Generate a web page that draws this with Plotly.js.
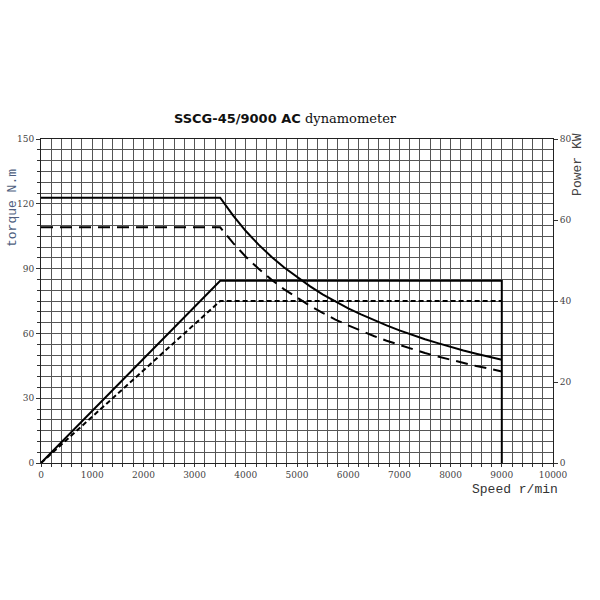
<!DOCTYPE html>
<html><head><meta charset="utf-8">
<script src="https://cdn.plot.ly/plotly-3.0.1.min.js"></script>
<style>body{margin:0;background:#fff}#c{width:600px;height:600px}</style>
</head><body><div id="c"></div>
<script>
// Speed values (r/min)
const speed = [0, 3500, 3750, 4000, 4250, 4500, 4750, 5000, 5250, 5500, 5750, 6000, 6250, 6500, 6750, 7000, 7250, 7500, 7750, 8000, 8250, 8500, 8750, 9000];
// Torque curves (N.m)
const torqueSolid = [122.8, 122.8, 114.6, 107.4, 101.1, 95.5, 90.5, 86.0, 81.9, 78.1, 74.7, 71.6, 68.8, 66.1, 63.7, 61.4, 59.3, 57.3, 55.5, 53.7, 52.1, 50.6, 49.1, 47.8];
const torqueDashed = [109.1, 109.1, 101.9, 95.5, 89.9, 84.9, 80.4, 76.4, 72.8, 69.5, 66.4, 63.7, 61.1, 58.8, 56.6, 54.6, 52.7, 50.9, 49.3, 47.8, 46.3, 44.9, 43.7, 42.4];
// Power curves (kW)
const powerSpeed = [0, 3500, 9000, 9000];
const powerSolid = [0, 45, 45, 0];
const powerSpeedDashed = [0, 3500, 9000];
const powerDashed = [0, 40, 40];
const xTicks = [0,1000,2000,3000,4000,5000,6000,7000,8000,9000,10000];
const xTickText = ['0','1000','2000','3000','4000','5000','6000','7000','8000','9000','10000'];
const yTicks = [0,30,60,90,120,150];
const y2Ticks = [0,20,40,60,80];

const traces = [
 {x: speed, y: torqueSolid, mode:'lines', line:{color:'#000', width:2}, yaxis:'y'},
 {x: speed, y: torqueDashed, mode:'lines', line:{color:'#000', width:2, dash:'12px,7px'}, yaxis:'y'},
 {x: powerSpeed, y: powerSolid, mode:'lines', line:{color:'#000', width:2}, yaxis:'y2'},
 {x: powerSpeedDashed, y: powerDashed, mode:'lines', line:{color:'#000', width:2, dash:'5px,3px'}, yaxis:'y2'}
];
const tickFont = {family:'DejaVu Serif', size:9, color:'#444'};
const gridC = '#555';
const layout = {
 width:600, height:600, showlegend:false,
 paper_bgcolor:'#fff', plot_bgcolor:'#fff',
 margin:{l:41, r:47, t:139, b:137},
 title:{text:'<b>SSCG-45/9000 AC</b> <span style="font-family:\'DejaVu Serif\';font-weight:normal">dynamometer</span>',
   x:0.475, xanchor:'center', y:0.802, yanchor:'middle', font:{family:'DejaVu Sans', size:13, color:'#111'}},
 xaxis:{range:[0,10000], tickvals:xTicks, ticktext:xTickText, ticks:'outside', ticklen:3, tickcolor:'#333', tickfont:tickFont,
   showgrid:true, gridcolor:gridC, gridwidth:1, zeroline:false, showline:true, linecolor:'#222', mirror:true,
   minor:{dtick:200, showgrid:true, gridcolor:gridC, gridwidth:1, ticks:'outside', ticklen:3, tickcolor:'#333'}},
 yaxis:{range:[0,150], tickvals:yTicks, ticks:'outside', ticklen:4, tickcolor:'#333', tickfont:tickFont,
   showgrid:true, gridcolor:gridC, gridwidth:1, zeroline:false, showline:true, linecolor:'#222', mirror:true,
   minor:{dtick:5, showgrid:true, gridcolor:gridC, gridwidth:1, ticks:'outside', ticklen:3, tickcolor:'#333'}},
 yaxis2:{range:[0,80], tickvals:y2Ticks, overlaying:'y', side:'right', ticks:'outside', ticklen:4, tickcolor:'#333',
   tickfont:tickFont, showgrid:false, zeroline:false, showline:false},
 annotations:[
  {text:'torque N.m', xref:'paper', yref:'paper', x:0, xshift:-29, y:0.787, textangle:-90, showarrow:false,
   xanchor:'center', yanchor:'middle', font:{family:'Liberation Mono', size:13, color:'#4f5f80'}},
  {text:'Power KW', xref:'paper', yref:'paper', x:1, xshift:25, y:0.92, textangle:-90, showarrow:false,
   xanchor:'center', yanchor:'middle', font:{family:'Liberation Mono', size:13, color:'#444'}},
  {text:'Speed r/min', xref:'x', yref:'paper', x:9258, y:0, yshift:-26, showarrow:false,
   xanchor:'center', yanchor:'middle', font:{family:'Liberation Mono', size:13, color:'#333'}}
 ]
};
Plotly.newPlot('c', traces, layout, {displayModeBar:false, staticPlot:true});
</script></body></html>
